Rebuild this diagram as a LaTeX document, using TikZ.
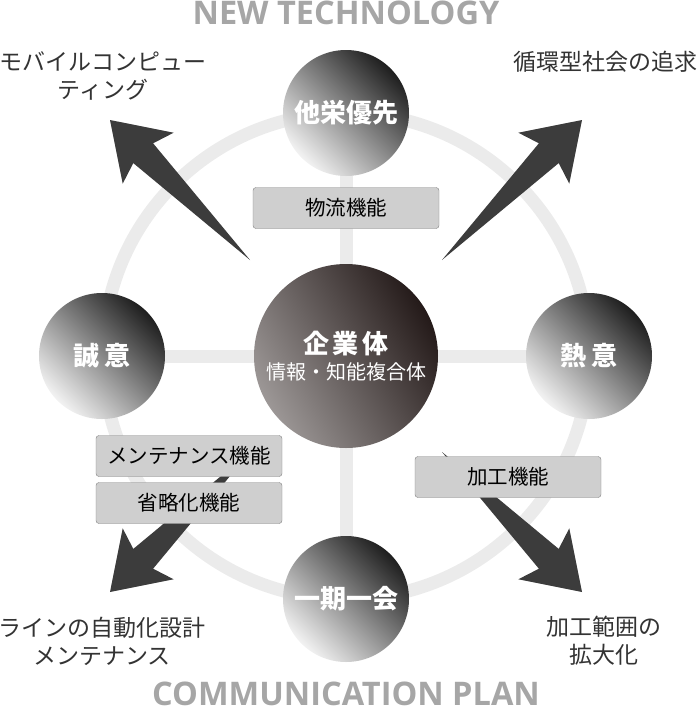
\documentclass[tikz,border=0pt]{standalone}
\usepackage{fontspec}
\setmainfont{Noto Sans CJK JP}
\newfontfamily\titlefont{Open Sans}
\definecolor{ringgray}{HTML}{EBEBEB}
\definecolor{arrowgray}{HTML}{3C3C3C}
\definecolor{boxgray}{HTML}{CFCFCF}
\definecolor{coredark}{HTML}{241A19}
\definecolor{corelight}{HTML}{9C9796}
\begin{document}
\begin{tikzpicture}[x=1pt,y=-1pt,
        ring/.style={draw=ringgray,line width=13pt},
        ball/.style={circle,minimum size=126pt,inner sep=0pt,text=white,
            font=\fontsize{26}{30}\selectfont\bfseries,
            top color=black!88,bottom color=black!5,shading angle=-45},
        core/.style={circle,minimum size=184pt,inner sep=0pt,text=white,align=center,
            font=\bfseries,top color=coredark,bottom color=corelight,shading angle=-60},
        tag/.style={draw=black!50,fill=boxgray,rounded corners=3pt,minimum width=186pt,
            minimum height=41pt,font=\fontsize{20.5}{24}\selectfont,text=black},
        goal/.style={align=center,font=\fontsize{23}{28}\selectfont,text=black!80},
        headline/.style={font=\titlefont\fontsize{32.5}{36}\selectfont\bfseries,text=black!35,
            anchor=base,inner sep=0pt,text depth=0pt}]
        \useasboundingbox (0,0) rectangle (697,713);
        % centres
        \coordinate (c) at (346,356);
        \coordinate (n) at (346,113);
        \coordinate (s) at (346,599);
        \coordinate (w) at (102,356);
        \coordinate (e) at (589,356);
        \draw[ring] (c) circle (243pt);
        \draw[ring] (w) -- (e);
        \draw[ring] (n) -- (s);
        % arrows
        \foreach \sx/\sy in {-1/-1,1/-1,-1/1,1/1} {
            \scope[shift={(c)},xscale=\sx,yscale=\sy]
                \fill[arrowgray] (96,96) -- (212.7,192.9) -- (223.3,172.3) -- (236,236)
                    -- (172.3,223.3) -- (192.9,212.7) -- cycle;
            \endscope
        }
        \node[core] (corp) at (c) {{\fontsize{26}{30}\selectfont 企\hspace{4pt}業\hspace{4pt}体}\\[6pt]
            {\fontsize{20}{24}\selectfont\mdseries 情報・知能複合体}};
        \node[ball] (tabun) at (n) {他栄優先};
        \node[ball] (ichigo) at (s) {一期一会};
        \node[ball] (seii) at (w) {誠\hspace{5pt}意};
        \node[ball] (netsui) at (e) {熱\hspace{5pt}意};
        \node[tag] (butsuryu) at (346,208) {物流機能};
        \node[tag] (mente) at (189,456) {メンテナンス機能};
        \node[tag] (shoryaku) at (189,503) {省略化機能};
        \node[tag] (kako) at (508,477) {加工機能};
        \node[goal] (mobile) at (103,76) {モバイルコンピュー\\ティング};
        \node[goal] (junkan) at (605,62) {循環型社会の追求};
        \node[goal] (line) at (102,641) {ラインの自動化設計\\メンテナンス};
        \node[goal] (kakohani) at (604,641) {加工範囲の\\拡大化};
        \node[headline] (newtech) at (346,24) {NEW TECHNOLOGY};
        \node[headline] (commplan) at (346,705) {COMMUNICATION PLAN};
\end{tikzpicture}
\end{document}
